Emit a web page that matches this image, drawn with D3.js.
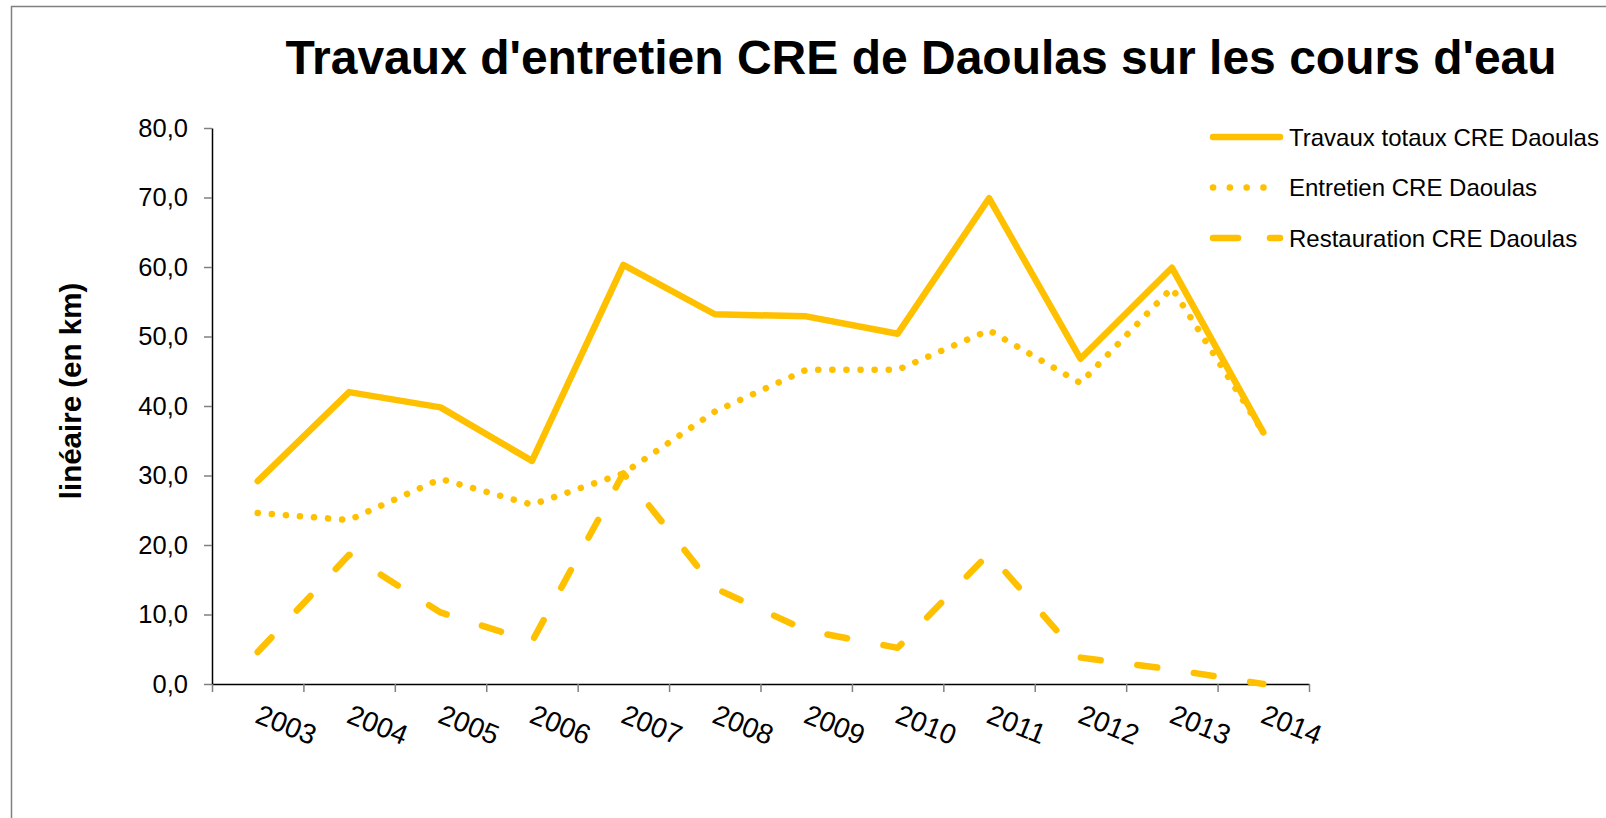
<!DOCTYPE html>
<html>
<head>
<meta charset="utf-8">
<script src="https://cdn.jsdelivr.net/npm/d3@7"></script>
<style>
  body { margin: 0; background: #fff; }
  svg { display: block; font-family: "Liberation Sans", Arial, sans-serif; }
</style>
</head>
<body>
<div id="chart"></div>
<script>
const width = 1606;
const height = 818;

// données (km)
const years = ["2003", "2004", "2005", "2006", "2007", "2008", "2009", "2010", "2011", "2012", "2013", "2014"];
const totaux = [29.2, 42.0, 39.8, 32.1, 60.3, 53.2, 52.9, 50.4, 69.9, 46.8, 59.9, 36.2];
const entretien = [24.6, 23.6, 29.5, 25.8, 30.3, 39.2, 45.2, 45.2, 50.9, 43.3, 57.0, 36.2];
const restauration = [4.6, 18.6, 10.3, 6.1, 30.3, 13.8, 7.7, 5.2, 18.8, 3.8, 2.1, 0.0];
const yTicks = [0, 10, 20, 30, 40, 50, 60, 70, 80];

const series = [
  { name: "Travaux totaux CRE Daoulas", values: totaux, dash: null, legendDash: null },
  { name: "Entretien CRE Daoulas", values: entretien, dash: "0.1 14", legendDash: "0.1 16.7" },
  { name: "Restauration CRE Daoulas", values: restauration, dash: "20 37", legendDash: "25 32" }
];

const color = "#FFC000";

const svg = d3.select("#chart").append("svg")
    .attr("width", width)
    .attr("height", height);

// cadre
svg.append("rect")
    .attr("x", 11.5).attr("y", 6.5)
    .attr("width", 3000).attr("height", 3000)
    .attr("fill", "none")
    .attr("stroke", "#808080")
    .attr("stroke-width", 1.5);

const x = d3.scaleBand().domain(years).range([212, 1309]).padding(0);
const xEdges = d3.scaleLinear().domain([0, years.length]).range([212, 1309]);
const y = d3.scaleLinear().domain([0, 80]).range([684, 128]);

// axe Y
const yAxis = svg.append("g")
    .attr("transform", "translate(212,0)")
    .call(d3.axisLeft(y)
        .tickValues(yTicks)
        .tickSize(8)
        .tickSizeOuter(0)
        .tickPadding(16)
        .tickFormat(d => d.toFixed(1).replace(".", ",")));
yAxis.select(".domain").attr("stroke", "#000").attr("stroke-width", 1.5);
yAxis.selectAll(".tick line").attr("stroke", "#808080").attr("stroke-width", 1.5);
yAxis.selectAll(".tick text")
    .attr("font-size", 25.5)
    .attr("fill", "#000")
    .attr("font-family", "Liberation Sans, Arial, sans-serif");

// axe X (graduations entre les catégories)
const xAxis = svg.append("g")
    .attr("transform", "translate(0,684)")
    .call(d3.axisBottom(xEdges)
        .tickValues(d3.range(years.length + 1))
        .tickSize(8)
        .tickSizeOuter(0)
        .tickFormat(""));
xAxis.select(".domain").attr("stroke", "#000").attr("stroke-width", 1.5);
xAxis.selectAll(".tick line").attr("stroke", "#808080").attr("stroke-width", 1.5);

// étiquettes des années, inclinées
svg.append("g").selectAll("text")
    .data(years)
    .join("text")
    .attr("transform", d => `translate(${x(d) + x.bandwidth() / 2 - 4},722) rotate(22)`)
    .attr("font-size", 28)
    .attr("fill", "#000")
    .text(d => d);

// titre de l'axe Y
svg.append("text")
    .attr("transform", "translate(81,391) rotate(-90)")
    .attr("text-anchor", "middle")
    .attr("font-size", 29.5)
    .attr("font-weight", "bold")
    .text("linéaire (en km)");

// titre
svg.append("text")
    .attr("x", 921)
    .attr("y", 74)
    .attr("text-anchor", "middle")
    .attr("font-size", 48)
    .attr("font-weight", "bold")
    .text("Travaux d'entretien CRE de Daoulas sur les cours d'eau");

// courbes
const line = d3.line()
    .x((d, i) => x(years[i]) + x.bandwidth() / 2)
    .y(d => y(d));

svg.append("g").selectAll("path")
    .data(series)
    .join("path")
    .attr("d", d => line(d.values))
    .attr("fill", "none")
    .attr("stroke", color)
    .attr("stroke-width", 6.5)
    .attr("stroke-linecap", "round")
    .attr("stroke-linejoin", "round")
    .attr("stroke-dasharray", d => d.dash);

// légende
const legend = svg.append("g").selectAll("g")
    .data(series)
    .join("g")
    .attr("transform", (d, i) => `translate(1210,${137 + i * 50.5})`);

legend.append("line")
    .attr("x1", 3).attr("x2", 70)
    .attr("stroke", color)
    .attr("stroke-width", 6.5)
    .attr("stroke-linecap", "round")
    .attr("stroke-dasharray", d => d.legendDash);

legend.append("text")
    .attr("x", 79)
    .attr("y", 8.5)
    .attr("font-size", 24)
    .attr("fill", "#000")
    .text(d => d.name);
</script>
</body>
</html>
